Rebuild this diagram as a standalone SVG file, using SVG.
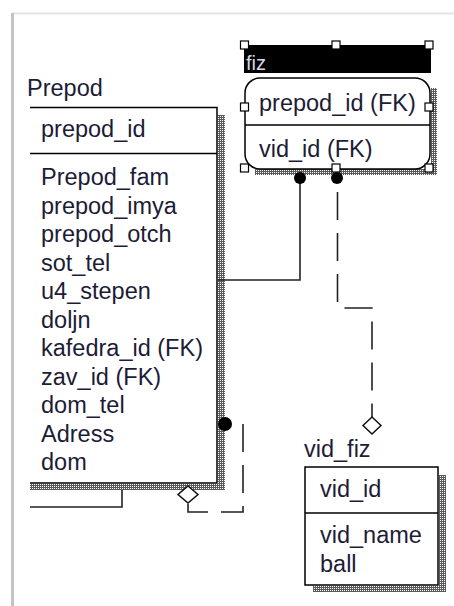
<svg xmlns="http://www.w3.org/2000/svg" width="454" height="606" viewBox="0 0 454 606">
<defs>
<pattern id="dither" width="2" height="2" patternUnits="userSpaceOnUse">
<rect width="2" height="2" fill="#5a5a5a"/>
<rect width="1" height="1" fill="#fff"/>
</pattern>
<style>
.t{font-family:"Liberation Sans",Arial,sans-serif;font-size:23.5px;fill:#1c1c36}
.ln{stroke:#000;stroke-width:1.5;fill:none}
.box{fill:#fff;stroke:#000;stroke-width:1.5}
.sh{fill:url(#dither)}
.h{fill:#fff;stroke:#000;stroke-width:1.2}
.c{stroke:#222;stroke-width:1.6;fill:none}
.d{stroke-dasharray:28 13}
.dot{fill:#000}
.dia{fill:#fff;stroke:#111;stroke-width:1.5}
</style>
</defs>
<rect width="454" height="606" fill="#fff"/>
<line x1="12" y1="13.5" x2="454" y2="13.5" stroke="#e4e4e4" stroke-width="2"/>
<line x1="12.5" y1="13" x2="12.5" y2="606" stroke="#c4c4c4" stroke-width="3"/>

<g id="Prepod">
<rect class="sh" x="218" y="115" width="7" height="375"/>
<rect class="sh" x="30" y="484" width="195" height="6"/>
<rect x="30" y="107" width="187" height="376" fill="#fff"/>
<path class="ln" d="M30 107.5H217V483H30M30 153.5H217"/>
<text class="t" x="27" y="96">Prepod</text>
<text class="t" x="41" y="137">prepod_id</text>
<text class="t" x="41" y="185">Prepod_fam</text>
<text class="t" x="41" y="213.5">prepod_imya</text>
<text class="t" x="41" y="242">prepod_otch</text>
<text class="t" x="41" y="270.5">sot_tel</text>
<text class="t" x="41" y="299">u4_stepen</text>
<text class="t" x="41" y="327.5">doljn</text>
<text class="t" x="41" y="356">kafedra_id (FK)</text>
<text class="t" x="41" y="384.5">zav_id (FK)</text>
<text class="t" x="41" y="413">dom_tel</text>
<text class="t" x="41" y="441.5">Adress</text>
<text class="t" x="41" y="470">dom</text>
</g>

<g id="fiz">
<rect x="244" y="45" width="187" height="28" fill="#000"/>
<text x="246" y="70" style="font-family:'Liberation Sans',Arial,sans-serif;font-size:20px;fill:#d8d8e0">fiz</text>
<path class="sh" d="M255 169H431V88H437V175H255Z"/>
<rect class="box" x="245" y="78" width="185" height="91" rx="15" ry="15"/>
<line class="ln" x1="245" y1="125" x2="430" y2="125"/>
<text class="t" x="259" y="111">prepod_id (FK)</text>
<text class="t" x="259" y="157">vid_id (FK)</text>
<rect class="h" x="240.5" y="41" width="8" height="8"/>
<rect class="h" x="332" y="41" width="8" height="8"/>
<rect class="h" x="425" y="41" width="8" height="8"/>
<rect class="h" x="240.5" y="103" width="8" height="8"/>
<rect class="h" x="425" y="103" width="8" height="8"/>
<rect class="h" x="240.5" y="164" width="8" height="8"/>
<rect class="h" x="332" y="164" width="8" height="8"/>
<rect class="h" x="425" y="164" width="8" height="8"/>
</g>

<g id="vid_fiz">
<rect class="sh" x="439" y="475" width="7" height="117"/>
<rect class="sh" x="313" y="586" width="133" height="6"/>
<rect class="box" x="305" y="467" width="133" height="118"/>
<line class="ln" x1="305" y1="513" x2="438" y2="513"/>
<text class="t" x="304" y="457">vid_fiz</text>
<text class="t" x="320" y="497">vid_id</text>
<text class="t" x="320" y="543">vid_name</text>
<text class="t" x="320" y="572">ball</text>
</g>

<g id="connectors">
<path class="c" d="M300 180V280H218"/>
<circle class="dot" cx="300" cy="178" r="6"/>
<path class="c d" stroke-dashoffset="-12" d="M337.5 180V308H372V417"/>
<circle class="dot" cx="337" cy="178" r="6"/>
<path class="dia" d="M372 417L381 425.5L372 434L363 425.5Z"/>
<path class="c d" stroke-dashoffset="-18" d="M225 424H243V512H188V503"/>
<circle class="dot" cx="225" cy="424" r="7"/>
<path class="dia" d="M188 486L198 494.5L188 503L178 494.5Z"/>
<path class="c" d="M30 507H122V490"/>
</g>
</svg>
